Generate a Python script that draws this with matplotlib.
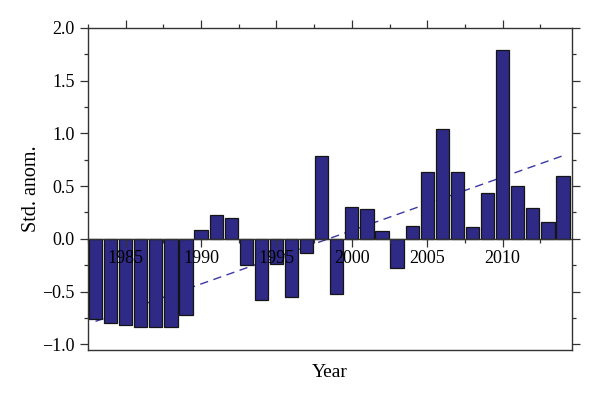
import numpy as np
import matplotlib
matplotlib.use("Agg")
import matplotlib.pyplot as plt
from matplotlib.ticker import MultipleLocator

years = list(range(1983, 2015))
anom = [-0.76, -0.80, -0.82, -0.84, -0.84, -0.84, -0.72, 0.08, 0.23, 0.20,
        -0.25, -0.58, -0.24, -0.55, -0.13, 0.79, -0.52, 0.30, 0.28, 0.07,
        -0.28, 0.12, 0.63, 1.04, 0.63, 0.11, 0.43, 1.79, 0.50, 0.29,
        0.16, 0.60]
xticks = [1985, 1990, 1995, 2000, 2005, 2010]
yticks = [-1.0, -0.5, 0.0, 0.5, 1.0, 1.5, 2.0]

plt.rcParams['font.family'] = ['Liberation Serif', 'DejaVu Serif']

fig = plt.figure(figsize=(6, 3.93), dpi=100)
ax = fig.add_axes([88/600, 1 - 350/393, (572-88)/600, (350-28)/393])

bar_col = '#2f2a86'
line_col = '#3b37a3'

# trend line (least squares on the series), drawn behind the bars
k, b = np.polyfit(years, anom, 1)
xs = np.array([years[0], years[-1]])
ax.plot(xs, k*xs + b, '--', color=line_col, lw=1.0, dashes=(6, 4), zorder=1)

ax.bar(years, anom, width=0.88, color=bar_col, edgecolor='#151515',
       linewidth=0.9, zorder=2)

ax.set_xlim(1982.5, 2014.6)
ax.set_ylim(-1.055, 2.0)
ax.set_axisbelow(False)  # year labels go over the bars

# x axis sits on the zero line, box is closed by a plain line at the bottom
ax.spines['bottom'].set_position(('data', 0))
ax.plot([0, 1], [0, 0], transform=ax.transAxes, color='#333333', lw=1.0,
        clip_on=False, zorder=3)
for s in ['left', 'right', 'top', 'bottom']:
    ax.spines[s].set_color('#333333')
    ax.spines[s].set_linewidth(1.0)

ax.set_xticks(xticks)
ax.xaxis.set_minor_locator(MultipleLocator(2.5))
ax.set_yticks(yticks)
ax.set_yticklabels([f"{v:.1f}".replace('-', '\u2212') for v in yticks])
ax.yaxis.set_minor_locator(MultipleLocator(0.25))

ax.tick_params(axis='both', which='major', direction='out', length=6,
               width=0.9, color='#333333', labelsize=13)
ax.tick_params(axis='both', which='minor', direction='out', length=3,
               width=0.9, color='#333333')
ax.tick_params(axis='x', which='both', top=True, pad=2)
ax.tick_params(axis='y', which='both', right=True)

ax.set_xlabel('Year', fontsize=14)
ax.xaxis.set_label_coords(0.5, -0.045)
ax.set_ylabel('Std. anom.', fontsize=14.5, labelpad=1)

fig.savefig('out.png', dpi=100)
